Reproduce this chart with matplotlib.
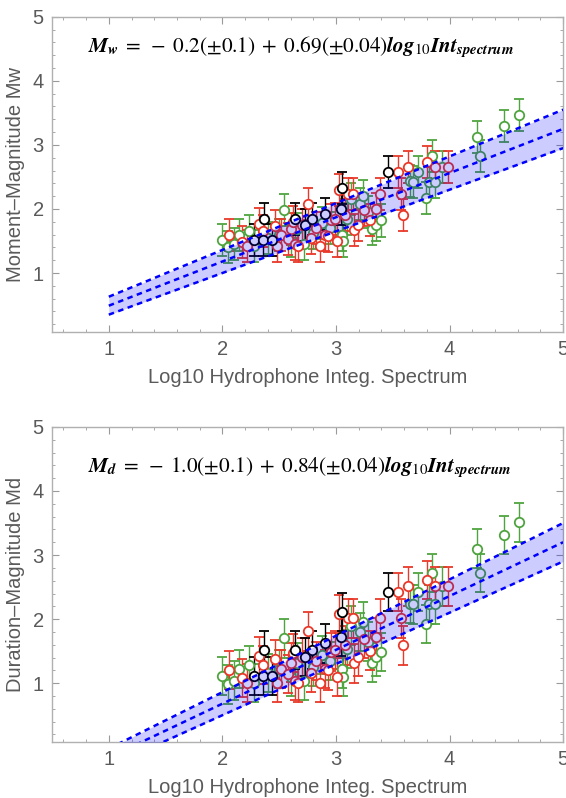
#!/usr/bin/env python3
# magnitude vs log10 hydrophone integrated spectrum, two panels (Mw and Md)
import numpy as np
import matplotlib
matplotlib.use('Agg')
import matplotlib.pyplot as plt
from matplotlib.ticker import MultipleLocator

#--------------------------------------------------
# data
# green series
gx   = [2.00, 2.05, 2.10, 2.15, 2.23, 2.28, 2.40, 2.50, 2.54, 2.60, 2.66, 2.72, 2.80,
        2.88, 2.95, 3.05, 3.06, 3.10, 3.13, 3.21, 3.24, 3.28, 3.32, 3.35, 3.40, 3.65,
        3.68, 3.72, 3.79, 3.82, 3.85, 3.87, 3.93, 4.24, 4.27, 4.48, 4.61]
g_mw = [1.51, 1.40, 1.45, 1.60, 1.65, 1.42, 1.55, 1.60, 1.99, 1.50, 1.68, 1.45, 1.62,
        1.78, 1.70, 1.60, 1.50, 1.85, 2.15, 2.07, 2.20, 1.95, 1.68, 1.75, 1.82, 2.43,
        2.42, 2.57, 2.17, 2.42, 2.82, 2.42, 2.65, 3.13, 2.82, 3.30, 3.46]
g_md = [1.11, 0.98, 1.04, 1.22, 1.28, 1.00, 1.16, 1.22, 1.70, 1.10, 1.32, 1.04, 1.25,
        1.44, 1.35, 1.22, 1.10, 1.53, 1.90, 1.80, 1.96, 1.65, 1.32, 1.41, 1.49, 2.24,
        2.23, 2.42, 1.92, 2.23, 2.72, 2.23, 2.51, 3.10, 2.72, 3.31, 3.51]
# red series
rx   = [2.06, 2.17, 2.22, 2.32, 2.36, 2.46, 2.48, 2.52, 2.58, 2.60, 2.62, 2.64, 2.67,
        2.70, 2.75, 2.78, 2.82, 2.86, 2.90, 2.93, 2.96, 2.99, 3.01, 3.03, 3.08, 3.11,
        3.15, 3.16, 3.19, 3.25, 3.30, 3.35, 3.39, 3.55, 3.57, 3.59, 3.63, 3.80, 3.87, 3.99]
r_mw = [1.59, 1.48, 1.42, 1.76, 1.65, 1.73, 1.42, 1.60, 1.53, 1.68, 1.80, 1.45, 1.42,
        1.75, 2.08, 1.55, 1.70, 1.42, 1.60, 1.58, 1.82, 1.84, 1.50, 2.30, 1.90, 2.24,
        2.24, 1.67, 1.75, 1.98, 1.83, 2.00, 2.24, 2.57, 2.24, 1.90, 2.65, 2.73, 2.65, 2.65]
r_md = [1.21, 1.08, 1.00, 1.42, 1.28, 1.38, 1.00, 1.22, 1.14, 1.32, 1.47, 1.04, 1.00,
        1.41, 1.81, 1.16, 1.35, 1.00, 1.22, 1.20, 1.49, 1.52, 1.10, 2.08, 1.59, 2.01,
        2.01, 1.31, 1.41, 1.69, 1.51, 1.72, 2.01, 2.42, 2.01, 1.59, 2.51, 2.61, 2.51, 2.51]
# black series
kx   = [2.28, 2.36, 2.37, 2.44, 2.64, 2.73, 2.79, 2.90, 3.04, 3.05, 3.46]
k_mw = [1.51, 1.51, 1.84, 1.51, 1.84, 1.75, 1.84, 1.92, 2.00, 2.32, 2.57]
k_md = [1.11, 1.11, 1.52, 1.11, 1.52, 1.41, 1.52, 1.62, 1.72, 2.11, 2.42]
err_mw = 0.25
err_md = 0.30

# fit coefficients: intercept, d(intercept), slope, d(slope)
fit_mw = [-0.2, 0.1, 0.69, 0.04]
fit_md = [-1.0, 0.1, 0.84, 0.04]
fitX   = [1.0, 5.0]

#--------------------------------------------------
plt.rcParams['font.family'] = ['Liberation Sans', 'DejaVu Sans']
plt.rcParams['mathtext.fontset'] = 'stix'

Green = '#4fa43f'
Red   = '#e8392a'
Black = '#000000'
Blue  = '#0000ff'
Gray  = '#5a5a5a'
fs    = 14.5

fig = plt.figure(figsize=(5.66, 7.98), dpi=100)
ax1 = fig.add_axes([0.0919, 0.584, 0.903, 0.395])
ax2 = fig.add_axes([0.0919, 0.070, 0.903, 0.395])

def panel(ax, ym, yd, yk, err, fit, ylab, eq, eqy):
    for xs, ys, c in [(gx, ym, Green), (rx, yd, Red), (kx, yk, Black)]:
        ax.errorbar(xs, ys, yerr=err, fmt='o', color=c, mfc='white', mec=c,
                    ms=6.8, mew=1.3, ecolor=c, elinewidth=1.0, capsize=3.8,
                    capthick=1.0, zorder=2)
    a, da, b, db = fit
    xf = np.array(fitX)
    ax.fill_between(xf, (a+da)+(b+db)*xf, (a-da)+(b-db)*xf, color=Blue,
                    alpha=0.2, lw=0, zorder=3)
    for aa, bb in [(a+da, b+db), (a, b), (a-da, b-db)]:
        ax.plot(xf, aa+bb*xf, color=Blue, lw=1.8, ls=(0, (2.2, 1.8)), zorder=4)
    ax.set_xlim(0.5, 5.0)
    ax.set_ylim(0.08, 5.0)
    ax.xaxis.set_major_locator(MultipleLocator(1))
    ax.xaxis.set_minor_locator(MultipleLocator(0.2))
    ax.yaxis.set_major_locator(MultipleLocator(1))
    ax.yaxis.set_minor_locator(MultipleLocator(0.2))
    ax.tick_params(which='both', direction='in', top=True, right=True,
                   color='#9a9a9a', labelcolor=Gray, labelsize=fs)
    ax.tick_params(which='major', length=5, width=0.8, pad=6)
    ax.tick_params(which='minor', length=2.5, width=0.6)
    for s in ax.spines.values():
        s.set_color('#b0b0b0')
        s.set_linewidth(1.0)
    ax.set_xlabel('Log10 Hydrophone Integ. Spectrum', color=Gray, fontsize=fs, labelpad=6)
    ax.set_ylabel(ylab, color=Gray, fontsize=fs, labelpad=5)
    ax.text(0.07, eqy, eq, transform=ax.transAxes, fontsize=15.3, va='center', ha='left')

panel(ax1, g_mw, r_mw, k_mw, err_mw, fit_mw, 'Moment\u2013Magnitude Mw',
      r'$\mathbfit{M}_{\mathbfit{w}}\;=\;-\;0.2(\pm0.1)\;+\;0.69(\pm0.04)\mathbfit{log}_{10}\mathbfit{Int}_{\mathbfit{spectrum}}$',
      0.905)
panel(ax2, g_md, r_md, k_md, err_md, fit_md, 'Duration\u2013Magnitude Md',
      r'$\mathbfit{M}_{\mathbfit{d}}\;=\;-\;1.0(\pm0.1)\;+\;0.84(\pm0.04)\mathbfit{log}_{10}\mathbfit{Int}_{\mathbfit{spectrum}}$',
      0.873)

fig.savefig('out.png', dpi=100)
print('Written file out.png')
